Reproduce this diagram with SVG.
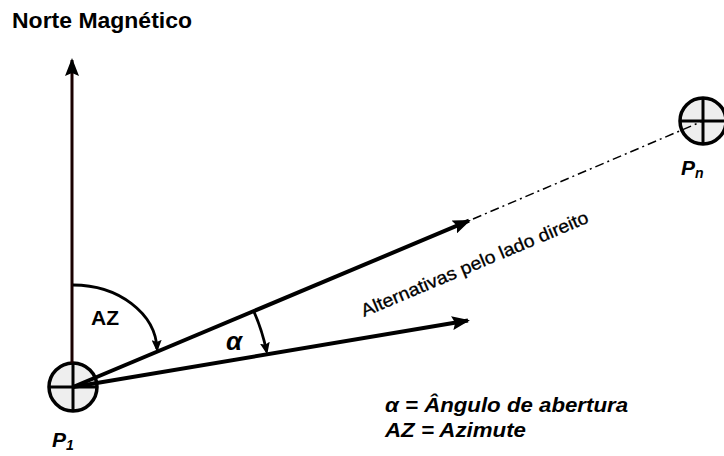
<svg xmlns="http://www.w3.org/2000/svg" width="724" height="456" viewBox="0 0 724 456">
<style>
.ln{stroke:#000;stroke-width:4;fill:none}
.arc{stroke:#000;stroke-width:2.8;fill:none}
.pt{fill:#eeeeee;stroke:#000;stroke-width:3.5}
.cr{stroke:#000;stroke-width:3}
.t{font-family:"Liberation Sans",Arial,sans-serif;fill:#000}
.bi{font-weight:bold;font-style:italic}
</style>
<defs>
<marker id="big" viewBox="0 0 18 14" refX="16" refY="7" markerWidth="18" markerHeight="14" markerUnits="userSpaceOnUse" orient="auto">
<path d="M0,0 L18,7 L0,14 L3,7 z" fill="#000"/>
</marker>
<marker id="sm" viewBox="0 0 12 10" refX="9" refY="5" markerWidth="12" markerHeight="10" markerUnits="userSpaceOnUse" orient="auto">
<path d="M0,0 L12,5 L0,10 L2,5 z" fill="#000"/>
</marker>
</defs>
<text class="t" x="12" y="28" font-size="22" font-weight="bold" textLength="180" lengthAdjust="spacingAndGlyphs">Norte Magnético</text>
<g id="P1">
<circle class="pt" cx="73" cy="387" r="24"/>
<line class="cr" x1="49" y1="387" x2="97" y2="387"/>
<line class="cr" x1="73" y1="363" x2="73" y2="411"/>
<text class="t bi" x="52" y="447" font-size="21">P<tspan font-size="14" dy="3">1</tspan></text>
</g>
<g id="Pn">
<circle class="pt" cx="703" cy="121" r="23"/>
<line class="cr" x1="680" y1="121" x2="726" y2="121"/>
<line class="cr" x1="703" y1="98" x2="703" y2="144"/>
<text class="t bi" x="681" y="175" font-size="21">P<tspan font-size="14" dy="3">n</tspan></text>
</g>
<g id="connectors">
<line x1="72" y1="363" x2="72" y2="60" stroke="#1a0000" stroke-width="3" marker-end="url(#big)"/>
<line class="ln" x1="73" y1="387" x2="469" y2="220.7" marker-end="url(#big)"/>
<line class="ln" x1="73" y1="387" x2="468" y2="320.5" marker-end="url(#big)"/>
<line x1="473" y1="219" x2="703" y2="121" stroke="#000" stroke-width="1.5" stroke-dasharray="9,4,2,4"/>
<path class="arc" d="M73,285 A84,66 0 0 1 157,349" marker-end="url(#sm)"/>
<path class="arc" d="M253.7,311.1 A196,196 0 0 1 266.6,351.5" marker-end="url(#sm)"/>
</g>
<text class="t" font-size="21" font-weight="bold" x="91" y="325">AZ</text>
<text class="t bi" font-size="26" x="226" y="350">α</text>
<text class="t" font-size="18" transform="translate(364,317) rotate(-22.8)" textLength="245" lengthAdjust="spacingAndGlyphs" stroke="#000" stroke-width="0.3">Alternativas pelo lado direito</text>
<text class="t bi" font-size="20" x="385" y="412" textLength="243" lengthAdjust="spacingAndGlyphs">α = Ângulo de abertura</text>
<text class="t bi" font-size="20" x="385" y="437" textLength="141" lengthAdjust="spacingAndGlyphs">AZ = Azimute</text>
</svg>
